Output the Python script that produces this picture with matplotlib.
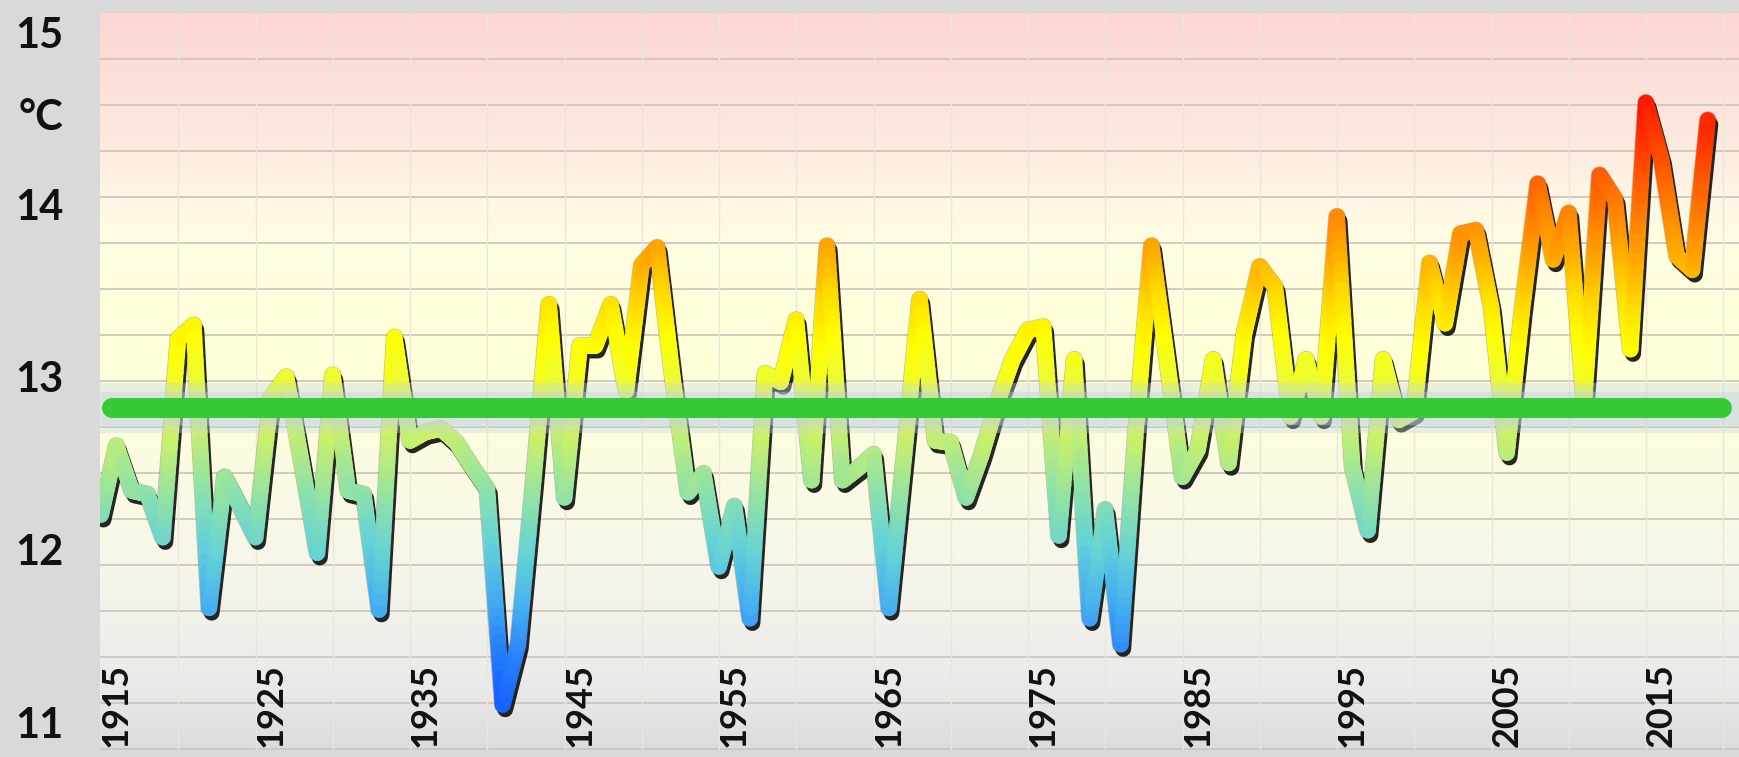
import numpy as np
import matplotlib
matplotlib.use("Agg")
import matplotlib.pyplot as plt
from matplotlib.collections import LineCollection
from matplotlib.colors import LinearSegmentedColormap, Normalize
import matplotlib.transforms as mtransforms

# ---------------- data ----------------
years = list(range(1914, 2019))
temps = [
    12.20, 12.60, 12.34, 12.32, 12.07, 13.22, 13.30, 11.66, 12.42, 12.25,   # 1914-1923
    12.07, 12.88, 13.00, 12.50, 11.98, 13.01, 12.34, 12.32, 11.65, 13.23,   # 1924-1933
    12.63, 12.68, 12.70, 12.62, 12.48, 12.35, 11.10, 11.45, 12.40, 13.42,   # 1934-1943
    12.30, 13.18, 13.18, 13.42, 12.92, 13.65, 13.75, 13.00, 12.33, 12.44,   # 1944-1953
    11.90, 12.25, 11.60, 13.02, 12.97, 13.33, 12.40, 13.76, 12.40, 12.47,   # 1954-1963
    12.55, 11.66, 12.55, 13.45, 12.63, 12.62, 12.30, 12.55, 12.85, 13.10,   # 1964-1973
    13.27, 13.29, 12.08, 13.10, 11.60, 12.23, 11.45, 12.70, 13.76, 13.10,   # 1974-1983
    12.42, 12.58, 13.10, 12.50, 13.25, 13.64, 13.52, 12.77, 13.10, 12.77,   # 1984-1993
    13.93, 12.48, 12.11, 13.10, 12.75, 12.80, 13.66, 13.31, 13.83, 13.85,   # 1994-2003
    13.40, 12.56, 13.40, 14.12, 13.68, 13.95, 12.85, 14.17, 14.03, 13.16,   # 2004-2013
    14.59, 14.26, 13.70, 13.62, 14.49,                                      # 2014-2018
]
mean_temp = 12.82
label_years = [1915, 1925, 1935, 1945, 1955, 1965, 1975, 1985, 1995, 2005, 2015]
y_ticks = [11, 12, 13, 14, 15]
unit_label = "°C"

# ---------------- figure ----------------
W, H = 1739, 757
fig = plt.figure(figsize=(W / 100, H / 100), dpi=100, facecolor="#d9d9d9")
ax_left, ax_top, ax_bottom = 100, 13.3, 750
ax = fig.add_axes([ax_left / W, (H - ax_bottom) / H, 1 - ax_left / W, (ax_bottom - ax_top) / H])

px_per_deg = 172.5
px_per_year = 15.45
ymin = 15 - (ax_bottom - 32) / px_per_deg
ymax = 15 + (32 - ax_top) / px_per_deg
ax.set_xlim(years[0] - 1 / px_per_year, years[0] + (W - ax_left - 1) / px_per_year)
ax.set_ylim(ymin, ymax)
for s in ax.spines.values():
    s.set_visible(False)

# background gradient (top -> bottom)
stops = [
    (0.00, (253, 214, 212)),
    (0.06, (252, 220, 215)),
    (0.17, (253, 233, 224)),
    (0.25, (254, 246, 228)),
    (0.31, (255, 253, 226)),
    (0.45, (255, 255, 216)),
    (0.56, (253, 253, 222)),
    (0.70, (248, 248, 232)),
    (0.82, (242, 242, 236)),
    (0.92, (233, 233, 233)),
    (1.00, (220, 220, 220)),
]
bg_cmap = LinearSegmentedColormap.from_list(
    "bg", [(p, tuple(c / 255 for c in col)) for p, col in stops])
grad = np.linspace(0, 1, 512).reshape(-1, 1)
ax.imshow(grad, cmap=bg_cmap, aspect="auto", extent=(0, 1, 0, 1),
          transform=ax.transAxes, origin="upper", zorder=0, interpolation="bilinear")

# gridlines
grid_step = 46 / px_per_deg
for k in range(1, 17):
    ax.axhline(ymax - k * grid_step, color="#cbc3b9", lw=1.2, zorder=1)
for yr in range(years[0] + 5, 2020, 5):
    ax.axvline(yr, color="#ebe6d8", lw=1.0, zorder=1)

# ---------------- data line ----------------
x = np.array(years, dtype=float)
yv = np.array(temps, dtype=float)

lw_pt = 11.5
shadow_tr = ax.transData + mtransforms.ScaledTranslation(0.025, -0.045, fig.dpi_scale_trans)
ax.plot(x, yv, color="black", lw=lw_pt, alpha=0.85, solid_capstyle="round",
        solid_joinstyle="round", transform=shadow_tr, zorder=3)
ax.plot(x, yv, color="#3c3c24", lw=lw_pt + 1.2, alpha=0.30, solid_capstyle="round",
        solid_joinstyle="round", zorder=3.5)

line_cmap = LinearSegmentedColormap.from_list("temp", [
    (0.000, (20 / 255, 95 / 255, 255 / 255)),
    (0.086, (40 / 255, 130 / 255, 250 / 255)),
    (0.171, (70 / 255, 175 / 255, 240 / 255)),
    (0.257, (100 / 255, 210 / 255, 215 / 255)),
    (0.343, (140 / 255, 225 / 255, 170 / 255)),
    (0.429, (190 / 255, 237 / 255, 120 / 255)),
    (0.514, (232 / 255, 250 / 255, 60 / 255)),
    (0.600, (255 / 255, 255 / 255, 0 / 255)),
    (0.671, (255 / 255, 220 / 255, 0 / 255)),
    (0.743, (255 / 255, 170 / 255, 0 / 255)),
    (0.829, (255 / 255, 120 / 255, 0 / 255)),
    (0.914, (255 / 255, 70 / 255, 0 / 255)),
    (1.000, (255 / 255, 20 / 255, 0 / 255)),
])
norm = Normalize(vmin=11.1, vmax=14.6)

nsub = 24
segs, mids = [], []
for i in range(len(x) - 1):
    t = np.linspace(0, 1, nsub + 1)
    xs = x[i] + (x[i + 1] - x[i]) * t
    ys = yv[i] + (yv[i + 1] - yv[i]) * t
    for j in range(nsub):
        segs.append([(xs[j], ys[j]), (xs[j + 1], ys[j + 1])])
        mids.append(0.5 * (ys[j] + ys[j + 1]))
lc = LineCollection(segs, cmap=line_cmap, norm=norm, linewidths=lw_pt,
                    capstyle="round", joinstyle="round", zorder=4)
lc.set_array(np.array(mids))
ax.add_collection(lc)

# ---------------- mean (green) line ----------------
btr = mtransforms.blended_transform_factory(ax.transAxes, ax.transData)
ax.plot([0, 1], [mean_temp, mean_temp], transform=btr, color="#c4d6e2", lw=36,
        alpha=0.35, solid_capstyle="butt", zorder=5)
ax.plot([0, 1], [mean_temp, mean_temp], transform=btr, color="#bcd0de", lw=24,
        alpha=0.40, solid_capstyle="butt", zorder=5)
gx0 = 12 / (W - ax_left)
gx1 = 1 - 17 / (W - ax_left)
ax.plot([gx0, gx1], [mean_temp, mean_temp], transform=btr, color="#35c935", lw=14.4,
        solid_capstyle="round", zorder=6)

# ---------------- axes text ----------------
font = "Lato"
ax.set_yticks(y_ticks)
ax.set_yticklabels([str(v) for v in y_ticks], fontfamily=font, fontsize=30,
                   fontweight="bold", color="#111111")
ax.tick_params(axis="y", length=0, pad=26.6)
ax.text(-37 / (W - ax_left), 14.5, unit_label, transform=btr, ha="right", va="center",
        fontsize=30, fontweight="bold", fontfamily=font, color="#111111")

ax.set_xticks(label_years)
ax.set_xticklabels([str(v) for v in label_years], rotation=90, va="bottom", ha="center",
                   fontfamily=font, fontsize=26, fontweight="bold", color="#111111")
ax.tick_params(axis="x", length=0, pad=-2)
for lab in ax.get_xticklabels():
    lab.set_zorder(7)

fig.savefig("out.png", dpi=100, facecolor=fig.get_facecolor())
